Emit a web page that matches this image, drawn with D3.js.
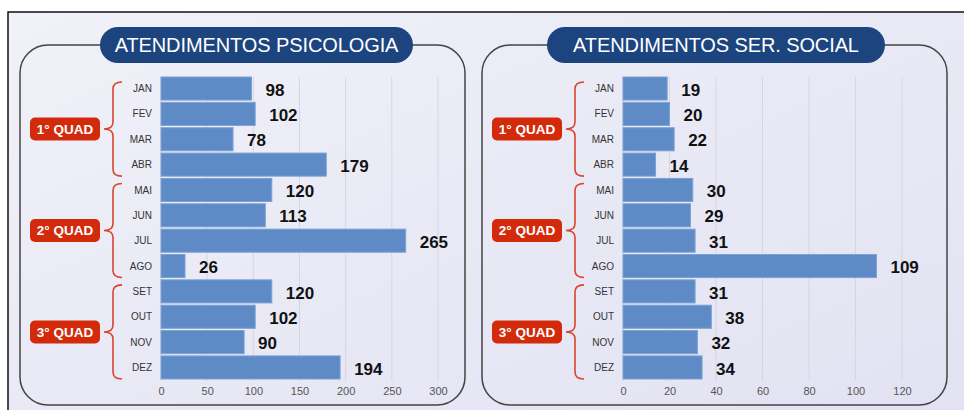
<!DOCTYPE html>
<html>
<head>
<meta charset="utf-8">
<script src="https://cdn.jsdelivr.net/npm/d3@7"></script>
<style>
  html, body { margin: 0; padding: 0; background: #fff; }
  svg { display: block; font-family: Arial, "Liberation Sans", sans-serif; }
</style>
</head>
<body>
<div id="chart"></div>
<script>
// dados
const months = ["JAN", "FEV", "MAR", "ABR", "MAI", "JUN", "JUL", "AGO", "SET", "OUT", "NOV", "DEZ"];
const psicologia = [98, 102, 78, 179, 120, 113, 265, 26, 120, 102, 90, 194];
const servSocial = [19, 20, 22, 14, 30, 29, 31, 109, 31, 38, 32, 34];
const quads = ["1° QUAD", "2° QUAD", "3° QUAD"];
const ticksPsi = [0, 50, 100, 150, 200, 250, 300];
const ticksSoc = [0, 20, 40, 60, 80, 100, 120];

const w = 964, h = 410;

const svg = d3.select("#chart").append("svg")
    .attr("width", w)
    .attr("height", h);

const defs = svg.append("defs");
const grad = defs.append("linearGradient")
    .attr("id", "bg")
    .attr("x1", "0").attr("y1", "0").attr("x2", "1").attr("y2", "1");
grad.append("stop").attr("offset", "0").attr("stop-color", "#f1f1f9");
grad.append("stop").attr("offset", "1").attr("stop-color", "#e1e1f2");

// moldura externa
svg.append("rect")
    .attr("x", 8).attr("y", 12)
    .attr("width", w + 20).attr("height", h + 20)
    .attr("fill", "url(#bg)")
    .attr("stroke", "#111")
    .attr("stroke-width", 1.5);

const y = d3.scaleBand()
    .domain(months)
    .range([77, 379])
    .paddingInner(0.09)
    .paddingOuter(0);

function panel(opts) {
    const g = svg.append("g");
    const x = d3.scaleLinear().domain(opts.domain).range(opts.range);
    const x0 = x(0);

    g.append("rect")
        .attr("x", opts.box[0]).attr("y", 45)
        .attr("width", opts.box[1] - opts.box[0]).attr("height", 360)
        .attr("rx", 28)
        .attr("fill", "none")
        .attr("stroke", "#444")
        .attr("stroke-width", 1.5);

    // título
    g.append("rect")
        .attr("x", opts.pill[0]).attr("y", 27)
        .attr("width", opts.pill[1] - opts.pill[0]).attr("height", 36)
        .attr("rx", 18)
        .attr("fill", "#1c447f");
    g.append("text")
        .attr("x", (opts.pill[0] + opts.pill[1]) / 2)
        .attr("y", 51.5)
        .attr("text-anchor", "middle")
        .attr("fill", "#fff")
        .style("font-size", "20px")
        .style("letter-spacing", "-0.1px")
        .text(opts.title);

    // grade
    g.selectAll(".grid")
        .data(opts.ticks)
        .enter().append("line")
        .attr("x1", d => x(d)).attr("x2", d => x(d))
        .attr("y1", 77).attr("y2", 381)
        .attr("stroke", "#d6d6e3")
        .attr("stroke-width", 1);

    const xAxis = d3.axisBottom(x).tickValues(opts.ticks).tickSize(0).tickPadding(0);
    const ax = g.append("g")
        .attr("transform", "translate(0,385)")
        .call(xAxis);
    ax.select(".domain").remove();
    ax.selectAll("text")
        .attr("dy", "0.9em")
        .attr("fill", "#555")
        .style("font-size", "11px")
        .style("font-family", "Arial, 'Liberation Sans', sans-serif");

    // barras
    g.selectAll(".bar")
        .data(opts.values)
        .enter().append("rect")
        .attr("x", x0)
        .attr("y", (d, i) => y(months[i]))
        .attr("width", d => x(d) - x0)
        .attr("height", y.bandwidth())
        .attr("fill", "#5e8bc5")
        .attr("stroke", "#7ba2d4")
        .attr("stroke-width", 1);

    g.selectAll(".val")
        .data(opts.values)
        .enter().append("text")
        .attr("x", d => x(d) + 14)
        .attr("y", (d, i) => y(months[i]) + y.bandwidth() / 2 + 1)
        .attr("dy", "0.36em")
        .attr("fill", "#111")
        .style("font-size", "17px")
        .style("font-weight", "bold")
        .text(d => d);

    // meses
    g.selectAll(".month")
        .data(months)
        .enter().append("text")
        .attr("x", x0 - 9)
        .attr("y", d => y(d) + y.bandwidth() / 2)
        .attr("dy", "0.36em")
        .attr("text-anchor", "end")
        .attr("fill", "#333")
        .style("font-size", "10px")
        .text(d => d);

    // chaves e rótulos dos quadrimestres
    const tip = x0 - 57, xv = x0 - 48, xr = x0 - 39, r = 7;
    quads.forEach((q, k) => {
        const y0 = y(months[k * 4]) + 5;
        const y1 = y(months[k * 4 + 3]) + y.bandwidth();
        const ym = (y0 + y1) / 2;
        const path = `M${xr},${y0} Q${xv},${y0} ${xv},${y0 + r} L${xv},${ym - r} Q${xv},${ym} ${tip},${ym}` +
            ` Q${xv},${ym} ${xv},${ym + r} L${xv},${y1 - r} Q${xv},${y1} ${xr},${y1}`;
        g.append("path")
            .attr("d", path)
            .attr("fill", "none")
            .attr("stroke", "#d9452b")
            .attr("stroke-width", 1.6);

        g.append("rect")
            .attr("x", x0 - 131).attr("y", ym - 11.5)
            .attr("width", 70).attr("height", 23)
            .attr("rx", 5)
            .attr("fill", "#d32a0c");
        g.append("text")
            .attr("x", x0 - 96).attr("y", ym)
            .attr("dy", "0.36em")
            .attr("text-anchor", "middle")
            .attr("fill", "#fff")
            .style("font-size", "13.5px")
            .style("font-weight", "bold")
            .text(q);
    });
}

panel({
    title: "ATENDIMENTOS PSICOLOGIA",
    values: psicologia,
    ticks: ticksPsi,
    domain: [0, 300],
    range: [161, 438],
    box: [20, 465],
    pill: [100, 413]
});

panel({
    title: "ATENDIMENTOS SER. SOCIAL",
    values: servSocial,
    ticks: ticksSoc,
    domain: [0, 120],
    range: [623, 902],
    box: [482, 947],
    pill: [547, 885]
});
</script>
</body>
</html>
